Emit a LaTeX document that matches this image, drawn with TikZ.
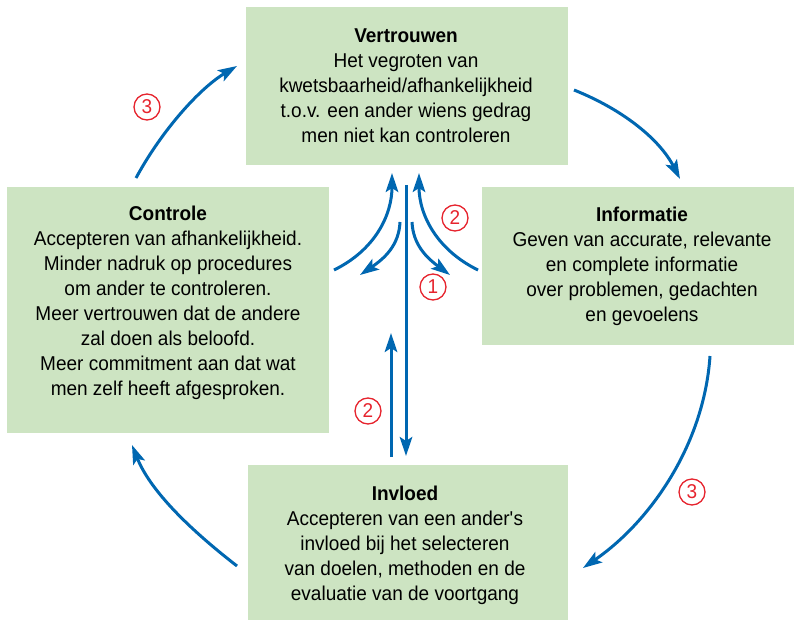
\documentclass[tikz,border=0pt]{standalone}
\usepackage{fontspec}
\setmainfont{Liberation Sans}[FakeStretch=0.95]
\usetikzlibrary{arrows.meta}
\definecolor{boxgreen}{RGB}{205,228,194}
\definecolor{flowblue}{RGB}{0,103,177}
\definecolor{markred}{RGB}{230,35,45}
\begin{document}
\begin{tikzpicture}[x=1pt,y=-1pt,
  panel/.style={fill=boxgreen, draw=none, rectangle, inner sep=0pt},
  paneltext/.style={align=center, font=\fontsize{20}{25}\selectfont, inner sep=0pt},
  flow/.style={draw=flowblue, line width=3pt, -{Stealth[length=19pt,width=12.5pt,inset=4pt]}},
  stepmark/.style={circle, draw=markred, text=markred, line width=1.3pt, minimum size=26pt, inner sep=0pt, font=\fontsize{20}{20}\selectfont}]
\useasboundingbox (0,0) rectangle (794,620);

% the four panels
\node[panel, minimum width=322pt, minimum height=158pt] (vt) at (407,86) {};
\node[panel, minimum width=322pt, minimum height=246pt] (ct) at (168,310) {};
\node[panel, minimum width=312pt, minimum height=158pt] (in) at (638,266) {};
\node[panel, minimum width=320pt, minimum height=155pt] (iv) at (408,542.5) {};

% panel texts
\node[paneltext] (vtx) at (406,86) {\textbf{Vertrouwen}\\Het vegroten van\\kwetsbaarheid/afhankelijkheid\\t.o.v. een ander wiens gedrag\\men niet kan controleren};
\node[paneltext] (ctx) at (168,303) {\textbf{Controle}\\Accepteren van afhankelijkheid.\\Minder nadruk op procedures\\om ander te controleren.\\Meer vertrouwen dat de andere\\zal doen als beloofd.\\Meer commitment aan dat wat\\men zelf heeft afgesproken.};
\node[paneltext] (inx) at (642,266) {\textbf{Informatie}\\Geven van accurate, relevante\\en complete informatie\\over problemen, gedachten\\en gevoelens};
\node[paneltext] (ivx) at (405,545) {\textbf{Invloed}\\Accepteren van een ander\textquotesingle s\\invloed bij het selecteren\\van doelen, methoden en de\\evaluatie van de voortgang};

% end points of the outer cycle
\coordinate (o1a) at (136,178);  \coordinate (o1b) at (237,66);
\coordinate (o2a) at (574,90);   \coordinate (o2b) at (680,179);
\coordinate (o3a) at (710,356);  \coordinate (o3b) at (583,568);
\coordinate (o4a) at (237,566);  \coordinate (o4b) at (132,445);

\draw[flow] (o1a) .. controls (162,130) and (200,88) .. (o1b);
\draw[flow] (o2a) .. controls (624,110) and (660,140) .. (o2b);
\draw[flow] (o3a) .. controls (704,445) and (650,522) .. (o3b);
\draw[flow] (o4a) .. controls (188,528) and (150,490) .. (o4b);

% end points of the central arrows
\coordinate (m1a) at (406,185);  \coordinate (m1b) at (406,456);
\coordinate (m2a) at (391,457);  \coordinate (m2b) at (391,333);
\coordinate (l1a) at (334,270);  \coordinate (l1b) at (392,173);
\coordinate (l2a) at (400,222);  \coordinate (l2b) at (360,275);
\coordinate (r2a) at (412,222);  \coordinate (r2b) at (450,275);
\coordinate (r1a) at (478,270);  \coordinate (r1b) at (419,173);

\draw[flow] (m1a) -- (m1b);
\draw[flow] (m2a) -- (m2b);
\draw[flow] (l1a) .. controls (375,250) and (392,215) .. (l1b);
\draw[flow] (l2a) .. controls (399,245) and (385,258) .. (l2b);
\draw[flow] (r2a) .. controls (413,245) and (427,258) .. (r2b);
\draw[flow] (r1a) .. controls (437,250) and (419,215) .. (r1b);

% step markers
\node[stepmark] (s3a) at (147,107) {3};
\node[stepmark] (s3b) at (692,492) {3};
\node[stepmark] (s2a) at (455,218) {2};
\node[stepmark] (s1)  at (433,287) {1};
\node[stepmark] (s2b) at (368,411) {2};
\end{tikzpicture}
\end{document}
